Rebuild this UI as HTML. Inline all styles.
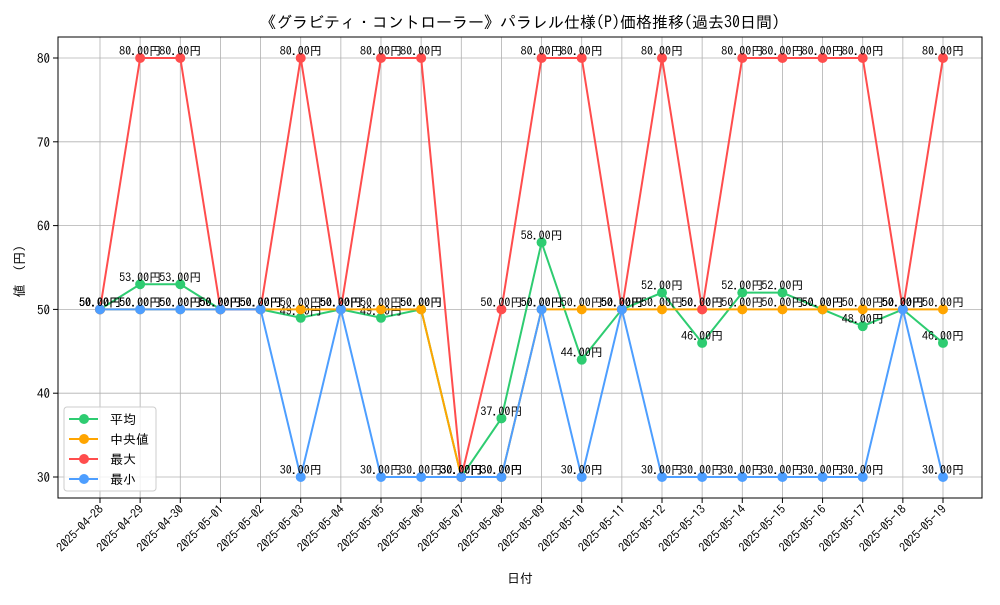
<!DOCTYPE html>
<html><head><meta charset="utf-8"><style>
body{margin:0;background:#fff;}
svg text{font-family:"IPAGothic","Liberation Sans","Noto Sans CJK JP",sans-serif;}
</style></head><body>
<svg id="chart" width="1000" height="600" xmlns="http://www.w3.org/2000/svg">
<text x="520" y="28" text-anchor="middle" font-size="16">《グラビティ・コントローラー》パラレル仕様(P)価格推移(過去30日間)</text>
<g id="grid"></g><g id="axes"></g><g id="series"></g>
<text x="520" y="583" text-anchor="middle" font-size="13">日付</text>
<text transform="translate(24,268) rotate(-90)" text-anchor="middle" font-size="13">値 （円）</text>
<g>
<rect x="64" y="407" width="92" height="84" rx="3" fill="#fff" fill-opacity="0.8" stroke="#ccc"/>
<g id="legend"></g>
</g>
</svg>
<script>
const dates=["2025-04-28","2025-04-29","2025-04-30","2025-05-01","2025-05-02","2025-05-03","2025-05-04","2025-05-05","2025-05-06","2025-05-07","2025-05-08","2025-05-09","2025-05-10","2025-05-11","2025-05-12","2025-05-13","2025-05-14","2025-05-15","2025-05-16","2025-05-17","2025-05-18","2025-05-19"];
const avgValues=[50,53,53,50,50,49,50,49,50,30,37,58,44,50,52,46,52,52,50,48,50,46];
const medianValues=[50,50,50,50,50,50,50,50,50,30,30,50,50,50,50,50,50,50,50,50,50,50];
const maxValues=[50,80,80,50,50,80,50,80,80,30,50,80,80,50,80,50,80,80,80,80,50,80];
const minValues=[50,50,50,50,50,30,50,30,30,30,30,50,30,50,30,30,30,30,30,30,50,30];
const yTicks=[30,40,50,60,70,80];
const seriesNames=["平均","中央値","最大","最小"];
const NS="http://www.w3.org/2000/svg";
const L=58,R=982,T=37,B=498;
const x=i=>100+i*(943-100)/(dates.length-1);
const y=v=>477+(v-30)*(58-477)/50;
function mk(tag,attrs,parent){const e=document.createElementNS(NS,tag);for(const k in attrs)e.setAttribute(k,attrs[k]);parent.appendChild(e);return e;}
const grid=document.getElementById('grid'),axes=document.getElementById('axes'),ser=document.getElementById('series'),leg=document.getElementById('legend');
dates.forEach((d,i)=>{
 const g=mk('line',{x1:x(i),x2:x(i),y1:T,y2:B,stroke:'#b0b0b0','stroke-width':0.8},grid);
 
 
 mk('line',{x1:x(i),x2:x(i),y1:B,y2:B+5,stroke:'#000'},axes);
 const t=mk('text',{x:x(i)+4,y:B+12,'text-anchor':'end','font-size':12,transform:`rotate(-45 ${x(i)+4} ${B+12})`},axes);
 t.textContent=d;
 
 
});
yTicks.forEach(v=>{
 const g=mk('line',{x1:L,x2:R,y1:y(v),y2:y(v),stroke:'#b0b0b0','stroke-width':0.8},grid);
 
 
 mk('line',{x1:L-5,x2:L,y1:y(v),y2:y(v),stroke:'#000'},axes);
 const t=mk('text',{x:L-8,y:y(v)+5,'text-anchor':'end','font-size':13},axes);
 t.textContent=v;
 
 
});
const frame=mk('rect',{x:L,y:T,width:R-L,height:B-T,fill:'none',stroke:'#000'},axes);


const all=[[avgValues,'#2ecc71','avg'],[medianValues,'#ffa500','median'],[maxValues,'#ff4d4d','max'],[minValues,'#4d9eff','min']];
all.forEach(([vals,c,n],si)=>{
 const p=mk('polyline',{points:vals.map((v,i)=>x(i)+','+y(v)).join(' '),fill:'none',stroke:c,'stroke-width':2},ser);
 
 
 vals.forEach((v,i)=>{
  const m=mk('circle',{cx:x(i),cy:y(v),r:5,fill:c},ser);
  
  
  const t=mk('text',{x:x(i),y:y(v)-3,'text-anchor':'middle','font-size':12},ser);
  t.textContent=v.toFixed(2)+'円';
  
  
 });
 const ly=419+si*20;
 mk('line',{x1:69,x2:98,y1:ly,y2:ly,stroke:c,'stroke-width':2},leg);
 mk('circle',{cx:84,cy:ly,r:5,fill:c},leg);
 const lt=mk('text',{x:110,y:ly+5,'font-size':13},leg);
 lt.textContent=seriesNames[si];
 
 
});
</script>
</body></html>
